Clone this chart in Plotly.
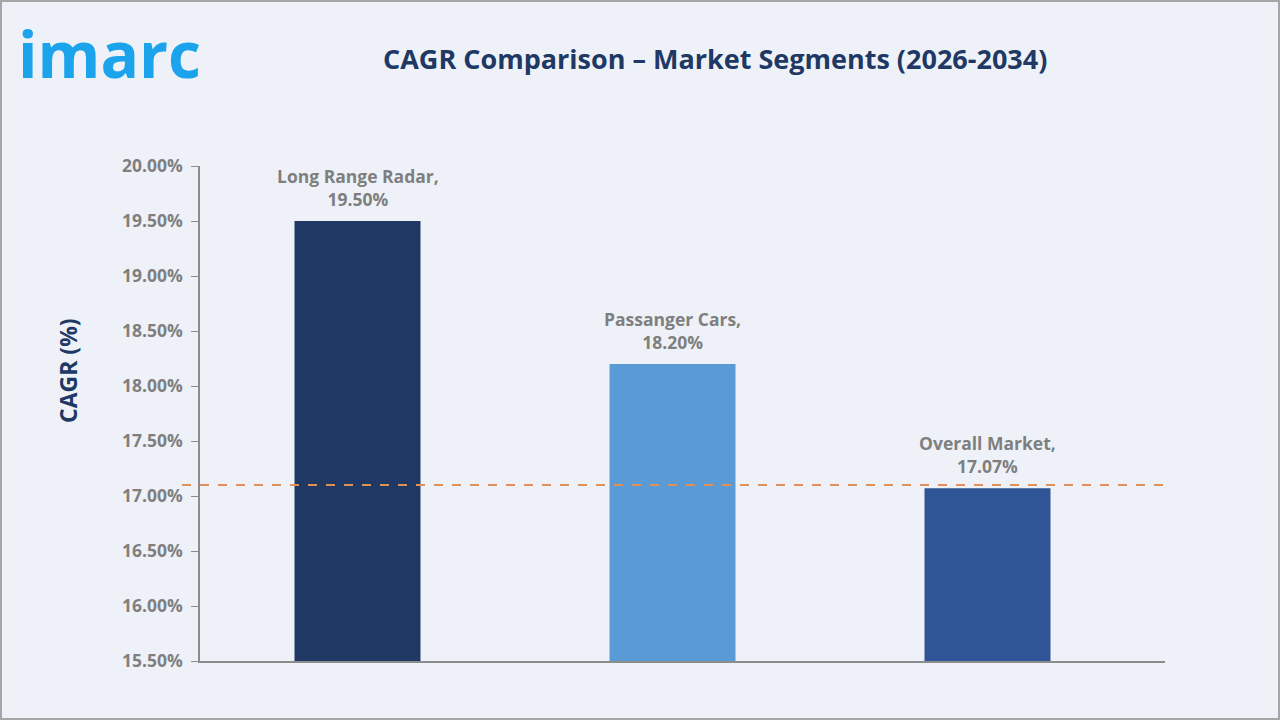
import plotly.graph_objects as go

categories = ["Long Range Radar", "Passanger Cars", "Overall Market"]
values = [19.50, 18.20, 17.07]
bar_colors = ["#203864", "#5B9BD5", "#2F5597"]
reference_value = 17.1
tick_vals = [15.5, 16.0, 16.5, 17.0, 17.5, 18.0, 18.5, 19.0, 19.5, 20.0]
tick_text = [f"{v:.2f}%" for v in tick_vals]

W, H = 1280, 720
L, R, T, B = 200, 115, 166, 59
pw, ph = W - L - R, H - T - B

def px_x(p):
    return (p - L) / pw

def px_y(p):
    return (H - B - p) / ph

font = "'Open Sans', Lato, sans-serif"

fig = go.Figure()
fig.add_trace(go.Bar(
    x=list(range(len(categories))), y=values,
    marker=dict(color=bar_colors, line=dict(width=0)),
    width=0.4,
    hoverinfo="skip",
))

annotations = [
    dict(text=f"{c},<br>{v:.2f}%", x=i, y=v, xref="x", yref="y",
         xanchor="center", yanchor="bottom", yshift=8, showarrow=False,
         font=dict(family=font, size=17.5, color="#7F7F7F", weight="bold"))
    for i, (c, v) in enumerate(zip(categories, values))
]
annotations += [
    dict(text="CAGR Comparison – Market Segments (2026-2034)",
         xref="paper", yref="paper", x=px_x(715), y=px_y(59),
         xanchor="center", yanchor="middle", showarrow=False,
         font=dict(family=font, size=27, color="#203864", weight="bold")),
    dict(text="imarc", xref="paper", yref="paper", x=px_x(16), y=px_y(53),
         xanchor="left", yanchor="middle", showarrow=False,
         font=dict(family=font, size=64, color="#1BA3EC", weight="bold")),
    dict(text="CAGR (%)", xref="paper", yref="paper", x=px_x(68), y=px_y(371),
         xanchor="center", yanchor="middle", showarrow=False, textangle=-90,
         font=dict(family=font, size=23, color="#203864", weight="bold")),
]

fig.update_layout(
    width=W, height=H,
    margin=dict(l=L, r=R, t=T, b=B),
    paper_bgcolor="#EEF2F8",
    plot_bgcolor="#EEF2F8",
    showlegend=False,
    xaxis=dict(
        range=[-0.5, 2.5 + 20 / 315], tickvals=list(range(len(categories))),
        showticklabels=False, showgrid=False, zeroline=False,
        showline=True, linecolor="#8C8C8C", linewidth=1.5, ticks="",
    ),
    yaxis=dict(
        range=[15.5, 20.0], tickvals=tick_vals, ticktext=tick_text,
        showgrid=False, zeroline=False, showline=True, linecolor="#8C8C8C",
        linewidth=1.5, ticks="outside", ticklen=7, tickcolor="#8C8C8C",
        tickfont=dict(family=font, size=17.5, color="#7F7F7F", weight="bold"),
        ticklabelstandoff=5,
    ),
    shapes=[
        dict(type="line", xref="paper", yref="y",
             x0=px_x(182), x1=px_x(1172), y0=reference_value, y1=reference_value,
             line=dict(color="#E0915A", width=2, dash="dash")),
        dict(type="rect", xref="paper", yref="paper",
             x0=px_x(1), x1=px_x(1279), y0=px_y(1), y1=px_y(719),
             line=dict(color="#A6A6A6", width=2), fillcolor="rgba(0,0,0,0)"),
    ],
    annotations=annotations,
)

fig.write_html("out.html")
